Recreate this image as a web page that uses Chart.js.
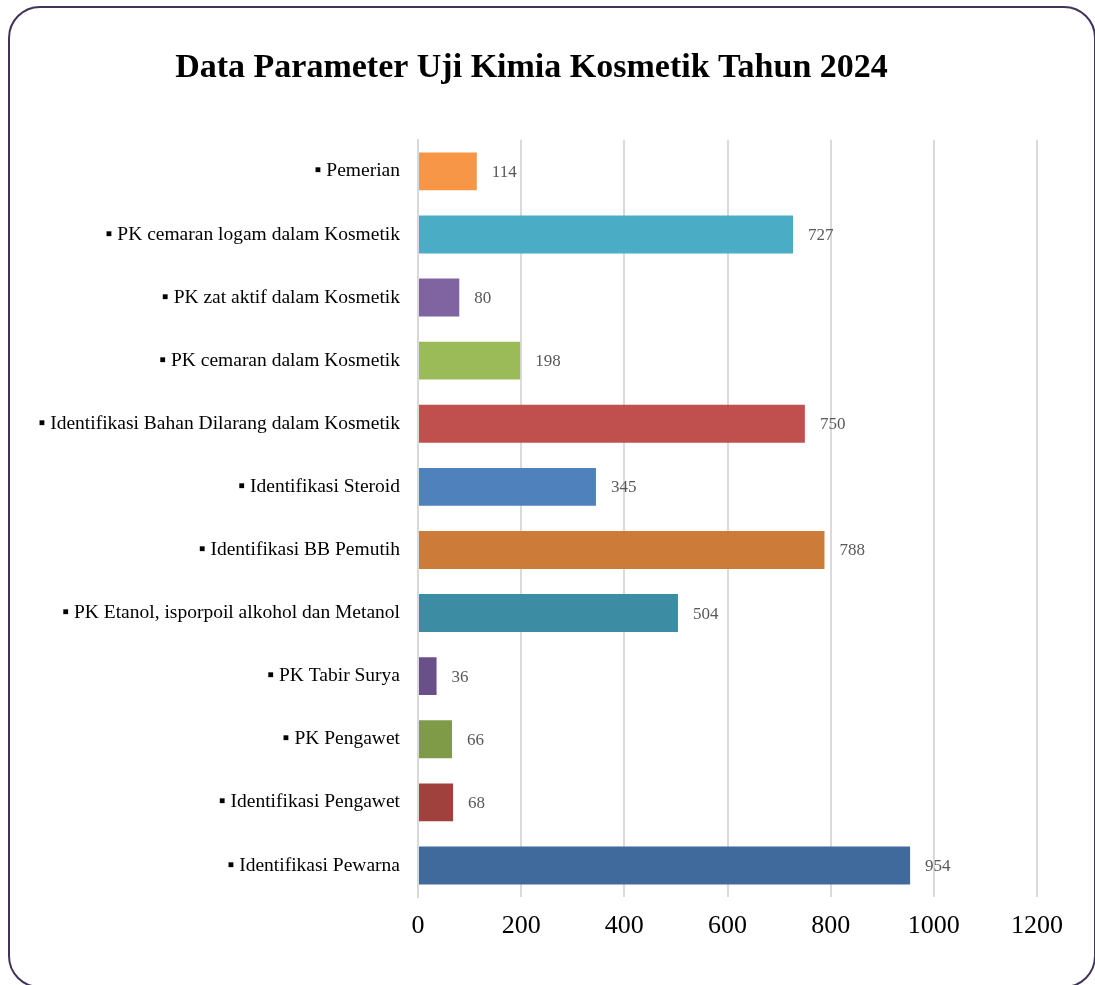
<!DOCTYPE html>
<html>
<head>
<meta charset="utf-8">
<script src="https://cdn.jsdelivr.net/npm/chart.js@4/dist/chart.umd.min.js"></script>
<style>
  html, body { margin: 0; padding: 0; background: #ffffff; }
  #wrap { position: relative; width: 1095px; height: 985px; overflow: hidden; background: #fff; }
  #frame { position: absolute; left: 8px; top: 6px; width: 1088px; height: 982px; box-sizing: border-box;
           border: 2.5px solid #41345a; border-radius: 32px; pointer-events: none; }
  canvas { position: absolute; left: 0; top: 0; }
</style>
</head>
<body>
<div id="wrap">
  <canvas id="c" width="1095" height="985"></canvas>
  <div id="frame"></div>
</div>
<script>
const chartTitle = 'Data Parameter Uji Kimia Kosmetik Tahun 2024';
const categories = [
  '▪ Pemerian',
  '▪ PK cemaran logam dalam Kosmetik',
  '▪ PK zat aktif dalam Kosmetik',
  '▪ PK cemaran dalam Kosmetik',
  '▪ Identifikasi Bahan Dilarang dalam Kosmetik',
  '▪ Identifikasi Steroid',
  '▪ Identifikasi BB Pemutih',
  '▪ PK Etanol, isporpoil alkohol dan Metanol',
  '▪ PK Tabir Surya',
  '▪ PK Pengawet',
  '▪ Identifikasi Pengawet',
  '▪ Identifikasi Pewarna'
];
const values = [114, 727, 80, 198, 750, 345, 788, 504, 36, 66, 68, 954];
const barColors = [
  '#F79646', '#4BACC6', '#8064A2', '#9BBB59', '#C0504D', '#4F81BD',
  '#CC7B38', '#3C8DA3', '#6A5089', '#7F9B48', '#A0413E', '#416A9C'
];
const xTicks = [0, 200, 400, 600, 800, 1000, 1200];

const serif = '"Liberation Serif", "Times New Roman", serif';

const valueLabels = {
  id: 'valueLabels',
  afterDatasetsDraw(chart) {
    const ctx = chart.ctx;
    const meta = chart.getDatasetMeta(0);
    ctx.save();
    ctx.font = '17px ' + serif;
    ctx.fillStyle = '#595959';
    ctx.textAlign = 'left';
    ctx.textBaseline = 'middle';
    meta.data.forEach((bar, i) => {
      ctx.fillText(String(values[i]), bar.x + 15, bar.y + 1);
    });
    ctx.restore();
  }
};

new Chart(document.getElementById('c'), {
  type: 'bar',
  data: {
    labels: categories,
    datasets: [{
      data: values,
      backgroundColor: barColors,
      borderWidth: 0,
      categoryPercentage: 0.6,
      barPercentage: 1.0
    }]
  },
  options: {
    indexAxis: 'y',
    responsive: false,
    animation: false,
    devicePixelRatio: 1,
    layout: { padding: { left: 26, right: 58, top: 0, bottom: 0 } },
    plugins: {
      legend: { display: false },
      tooltip: { enabled: false },
      title: {
        display: true,
        text: chartTitle,
        color: '#000000',
        font: { family: serif, size: 34, weight: 'bold' },
        padding: { top: 48, bottom: 51 }
      }
    },
    scales: {
      x: {
        min: 0,
        max: 1200,
        afterBuildTicks(s) { s.ticks = xTicks.map(v => ({ value: v })); },
        afterFit(s) { s.height = 88; },
        ticks: {
          color: '#000000',
          font: { family: serif, size: 26 },
          padding: 14,
          callback: (v) => String(v)
        },
        grid: { color: '#dadada', lineWidth: 2, drawTicks: false },
        border: { display: false }
      },
      y: {
        afterFit(s) { s.width = 392; },
        ticks: {
          color: '#000000',
          font: { family: serif, size: 19.5 },
          padding: 18
        },
        grid: { display: false, drawTicks: false },
        border: { display: true, color: '#d9d9d9', width: 2 }
      }
    }
  },
  plugins: [valueLabels]
});
</script>
</body>
</html>
